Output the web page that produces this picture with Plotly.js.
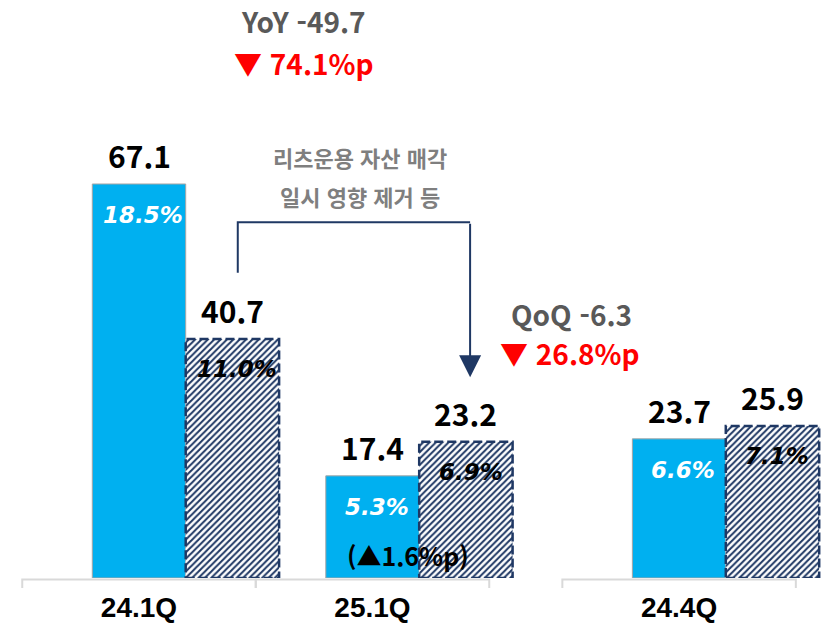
<!DOCTYPE html>
<html lang="ko">
<head>
  <meta charset="UTF-8" />
  <title>분기 실적 비교</title>
  <script src="https://cdn.plot.ly/plotly-3.0.1.min.js"></script>
  <style>
    body { margin: 0; background: #fff; }
    #chart { width: 828px; height: 626px; }
  </style>
</head>
<body>
  <div id="chart"></div>
  <script>
    // 데이터
    const categories = ['24.1Q', '25.1Q', '24.4Q'];
    const solidValues = [67.1, 17.4, 23.7];
    const solidRates = ['18.5%', '5.3%', '6.6%'];
    const hatchValues = [40.7, 23.2, 25.9];
    const hatchRates = ['11.0%', '6.9%', '7.1%'];

    // 레이아웃 상수
    const W = 828, PLOT_H = 578;
    const NAVY = '#1f3864';
    const BAR_W = 0.4;
    const numFont = 'Noto Sans CJK KR, Noto Sans, sans-serif';
    // 24.4Q 앞에 간격을 둔다
    const xPos = categories.map((c, i) => i + (i > 1 ? 0.313 : 0));
    const px = x => x / W;
    const py = y => 1 - y / PLOT_H;

    const solidTrace = {
      type: 'bar',
      x: xPos,
      y: solidValues,
      width: BAR_W,
      offset: -BAR_W / 2,
      marker: { color: '#00b0f0', line: { color: '#a6a6a6', width: 1 } },
      hoverinfo: 'skip'
    };
    const hatchTrace = {
      type: 'bar',
      x: xPos,
      y: hatchValues,
      width: BAR_W,
      offset: BAR_W / 2,
      marker: {
        color: '#ffffff',
        line: { width: 0 },
        pattern: { shape: '/', fgcolor: NAVY, bgcolor: '#ffffff', fillmode: 'replace', size: 4.5, solidity: 0.45 }
      },
      hoverinfo: 'skip'
    };

    const annotations = [];
    // 막대 위 값, 막대 안 비율
    xPos.forEach((x, i) => {
      annotations.push({ x: x, y: solidValues[i], text: solidValues[i].toFixed(1), showarrow: false,
        xanchor: 'center', yanchor: 'middle', yshift: 29, font: { family: numFont, size: 30, color: '#000', weight: 'bold' } });
      annotations.push({ x: x + BAR_W, y: hatchValues[i], text: hatchValues[i].toFixed(1), showarrow: false,
        xanchor: 'center', yanchor: 'middle', yshift: 29, font: { family: numFont, size: 30, color: '#000', weight: 'bold' } });
      annotations.push({ x: x, y: solidValues[i], text: solidRates[i], showarrow: false,
        xanchor: 'center', yanchor: 'middle', yshift: -31, xshift: 4,
        font: { family: 'DejaVu Sans', size: 23, color: '#ffffff', weight: 'bold', style: 'italic' } });
      annotations.push({ x: x + BAR_W, y: hatchValues[i], text: hatchRates[i], showarrow: false,
        xanchor: 'center', yanchor: 'middle', yshift: -30, xshift: 5,
        font: { family: 'DejaVu Sans', size: 23, color: '#000', weight: 'bold', style: 'italic' } });
    });

    const grayTxt = { family: numFont, size: 28, color: '#595959', weight: 'bold' };
    const redTxt = { family: numFont, size: 28, color: '#ff0000', weight: 'bold' };
    const noteTxt = { family: 'Noto Sans CJK KR', size: 22, color: '#7f7f7f', weight: 'bold' };
    const paperNote = (x, y, text, font) => ({ xref: 'paper', yref: 'paper', x: px(x), y: py(y), text: text,
      showarrow: false, xanchor: 'center', yanchor: 'middle', font: font });
    annotations.push(
      paperNote(303, 21, 'YoY -49.7', grayTxt),
      paperNote(304, 63, '▼ 74.1%p', redTxt),
      paperNote(571, 314, 'QoQ -6.3', grayTxt),
      paperNote(570, 353, '▼ 26.8%p', redTxt),
      paperNote(360, 157, '리츠운용 자산 매각', noteTxt),
      paperNote(360, 196, '일시 영향 제거 등', noteTxt),
      paperNote(408, 555, '(▲1.6%p)', { family: numFont, size: 25, color: '#000', weight: 'bold' }),
      // 화살표
      { x: xPos[1] + 0.418, y: 34.2, ax: xPos[1] + 0.418, ay: 60.6, axref: 'x', ayref: 'y', text: '',
        showarrow: true, arrowhead: 2, arrowsize: 2.2, arrowwidth: 2, arrowcolor: NAVY, standoff: 0 }
    );

    const shapes = [];
    // 연결선
    shapes.push({ type: 'path', xref: 'x', yref: 'y', line: { color: NAVY, width: 2 },
      path: `M ${xPos[0] + 0.423} 52 L ${xPos[0] + 0.423} 60.6 L ${xPos[1] + 0.418} 60.6` });
    // 점선 테두리
    xPos.forEach((x, i) => {
      shapes.push({ type: 'rect', xref: 'x', yref: 'y', x0: x + BAR_W / 2, x1: x + BAR_W * 1.5, y0: 0, y1: hatchValues[i],
        line: { color: NAVY, width: 2.5, dash: '9px,4px' } });
    });
    // 축 구간선
    xPos.forEach(x => {
      shapes.push({ type: 'path', xref: 'x', yref: 'paper', line: { color: '#d9d9d9', width: 2 },
        path: `M ${x - 0.5} ${-10 / PLOT_H} L ${x - 0.5} ${-1.5 / PLOT_H} L ${x + 0.5} ${-1.5 / PLOT_H} L ${x + 0.5} ${-10 / PLOT_H}` });
    });

    const layout = {
      width: W,
      height: 626,
      margin: { l: 0, r: 0, t: 0, b: 48 },
      paper_bgcolor: '#ffffff',
      plot_bgcolor: '#ffffff',
      showlegend: false,
      barmode: 'overlay',
      xaxis: {
        range: [-139 / 233.5, 689 / 233.5],
        tickvals: xPos,
        ticktext: categories,
        ticks: '',
        ticklabelstandoff: 10,
        showline: false,
        showgrid: false,
        zeroline: false,
        tickfont: { family: 'Liberation Sans, Arial, sans-serif', size: 28, color: '#000', weight: 'bold' }
      },
      yaxis: {
        range: [0, PLOT_H / 5.872],
        visible: false,
        showgrid: false,
        zeroline: false
      },
      annotations: annotations,
      shapes: shapes
    };

    Plotly.newPlot('chart', [solidTrace, hatchTrace], layout, { displayModeBar: false, staticPlot: true });
  </script>
</body>
</html>
